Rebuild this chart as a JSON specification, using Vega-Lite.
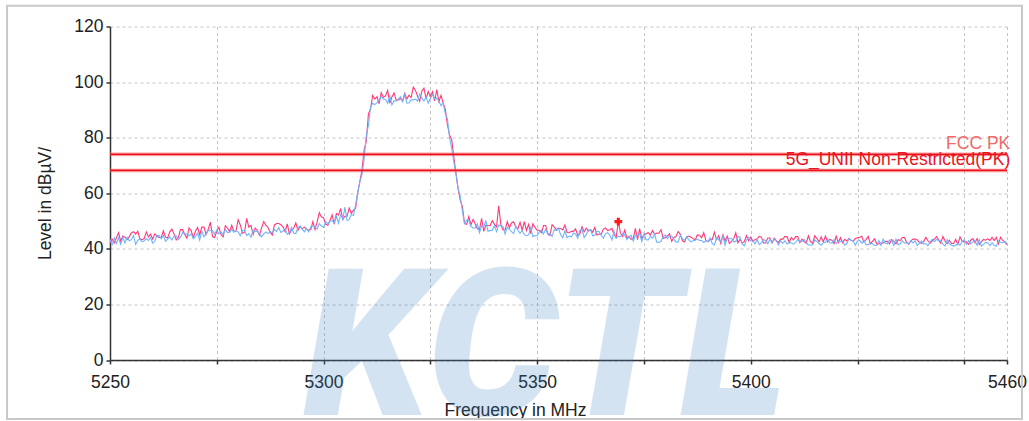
{
"$schema": "https://vega.github.io/schema/vega-lite/v6.json",
"width": 897, "height": 333.5,
"autosize": {"type": "none"},
"padding": {"left": 110, "top": 26.5, "right": 22, "bottom": 61},
"background": "white",
"config": {"view": {"stroke": null}, "font": "Liberation Sans",
 "axis": {"grid": true, "ticks": true, "gridDash": [3,3], "gridColor": "#c4c4c4", "gridWidth": 1, "domainColor": "#333", "domainWidth": 1.5, "tickColor": "#333", "tickWidth": 1.5, "tickSize": 4, "labelFontSize": 17.5, "labelColor": "#222", "titleFontSize": 17.5, "titleFontWeight": "normal", "titleColor": "#222", "labelFont": "Liberation Sans", "titleFont": "Liberation Sans"}},
"datasets": {
"tr": [
{"f":5250,"p":42.0,"b":43.5},{"f":5250.5,"p":43.5,"b":41.5},{"f":5251,"p":42.1,"b":43.9},{"f":5251.5,"p":44.0,"b":41.9},{"f":5252,"p":45.8,"b":44.0},{"f":5252.5,"p":42.8,"b":41.7},{"f":5253,"p":44.6,"b":44.1},{"f":5253.5,"p":44.2,"b":42.1},{"f":5254,"p":43.3,"b":44.2},{"f":5254.5,"p":44.3,"b":42.9},
{"f":5255,"p":45.7,"b":43.3},{"f":5255.5,"p":46.2,"b":44.8},{"f":5256,"p":45.3,"b":41.6},{"f":5256.5,"p":46.3,"b":43.1},{"f":5257,"p":43.6,"b":43.5},{"f":5257.5,"p":43.3,"b":42.5},{"f":5258,"p":43.7,"b":42.9},{"f":5258.5,"p":46.1,"b":43.7},{"f":5259,"p":44.3,"b":43.0},{"f":5259.5,"p":45.3,"b":44.1},
{"f":5260,"p":43.5,"b":42.0},{"f":5260.5,"p":45.4,"b":42.8},{"f":5261,"p":44.5,"b":44.9},{"f":5261.5,"p":44.1,"b":44.7},{"f":5262,"p":44.1,"b":43.6},{"f":5262.5,"p":46.5,"b":44.8},{"f":5263,"p":44.2,"b":42.7},{"f":5263.5,"p":43.9,"b":43.5},{"f":5264,"p":46.1,"b":44.2},{"f":5264.5,"p":47.1,"b":43.2},
{"f":5265,"p":45.3,"b":44.6},{"f":5265.5,"p":43.2,"b":44.7},{"f":5266,"p":44.1,"b":43.3},{"f":5266.5,"p":46.9,"b":44.1},{"f":5267,"p":46.9,"b":45.9},{"f":5267.5,"p":45.2,"b":45.3},{"f":5268,"p":43.8,"b":45.3},{"f":5268.5,"p":47.5,"b":44.7},{"f":5269,"p":46.6,"b":45.4},{"f":5269.5,"p":44.0,"b":43.7},
{"f":5270,"p":46.3,"b":44.4},{"f":5270.5,"p":47.7,"b":45.6},{"f":5271,"p":45.0,"b":43.1},{"f":5271.5,"p":47.8,"b":46.4},{"f":5272,"p":47.8,"b":44.3},{"f":5272.5,"p":45.2,"b":45.4},{"f":5273,"p":47.0,"b":46.5},{"f":5273.5,"p":49.6,"b":46.6},{"f":5274,"p":44.4,"b":46.6},{"f":5274.5,"p":44.1,"b":45.3},
{"f":5275,"p":46.3,"b":46.7},{"f":5275.5,"p":47.8,"b":45.4},{"f":5276,"p":45.1,"b":46.1},{"f":5276.5,"p":44.3,"b":45.1},{"f":5277,"p":48.3,"b":46.9},{"f":5277.5,"p":47.5,"b":45.9},{"f":5278,"p":46.2,"b":45.9},{"f":5278.5,"p":48.5,"b":47.1},{"f":5279,"p":46.3,"b":46.0},{"f":5279.5,"p":46.4,"b":46.5},
{"f":5280,"p":50.5,"b":46.1},{"f":5280.5,"p":48.6,"b":44.7},{"f":5281,"p":45.6,"b":46.6},{"f":5281.5,"p":46.0,"b":46.6},{"f":5282,"p":51.0,"b":44.8},{"f":5282.5,"p":47.8,"b":45.5},{"f":5283,"p":48.4,"b":44.2},{"f":5283.5,"p":45.2,"b":46.7},{"f":5284,"p":47.5,"b":46.3},{"f":5284.5,"p":46.6,"b":46.3},
{"f":5285,"p":44.9,"b":45.4},{"f":5285.5,"p":47.6,"b":44.3},{"f":5286,"p":49.8,"b":45.4},{"f":5286.5,"p":48.5,"b":46.1},{"f":5287,"p":47.7,"b":45.5},{"f":5287.5,"p":45.9,"b":46.2},{"f":5288,"p":45.0,"b":45.8},{"f":5288.5,"p":48.6,"b":46.9},{"f":5289,"p":49.1,"b":46.3},{"f":5289.5,"p":49.1,"b":47.7},
{"f":5290,"p":48.7,"b":45.9},{"f":5290.5,"p":47.9,"b":46.4},{"f":5291,"p":46.2,"b":47.2},{"f":5291.5,"p":49.0,"b":45.2},{"f":5292,"p":45.4,"b":45.9},{"f":5292.5,"p":46.8,"b":47.7},{"f":5293,"p":47.4,"b":45.7},{"f":5293.5,"p":49.3,"b":45.5},{"f":5294,"p":46.7,"b":47.7},{"f":5294.5,"p":48.1,"b":48.1},
{"f":5295,"p":47.2,"b":47.1},{"f":5295.5,"p":47.8,"b":46.1},{"f":5296,"p":47.0,"b":47.3},{"f":5296.5,"p":46.7,"b":46.1},{"f":5297,"p":46.9,"b":48.0},{"f":5297.5,"p":49.8,"b":48.2},{"f":5298,"p":46.9,"b":47.7},{"f":5298.5,"p":49.7,"b":47.1},{"f":5299,"p":53.0,"b":49.1},{"f":5299.5,"p":51.4,"b":48.2},
{"f":5300,"p":51.2,"b":47.7},{"f":5300.5,"p":48.8,"b":49.8},{"f":5301,"p":48.5,"b":48.9},{"f":5301.5,"p":50.2,"b":49.9},{"f":5302,"p":52.2,"b":50.1},{"f":5302.5,"p":48.9,"b":49.4},{"f":5303,"p":52.7,"b":51.7},{"f":5303.5,"p":52.1,"b":49.2},{"f":5304,"p":54.5,"b":52.4},{"f":5304.5,"p":50.5,"b":50.6},
{"f":5305,"p":51.7,"b":55.0},{"f":5305.5,"p":51.7,"b":50.2},{"f":5306,"p":54.7,"b":50.5},{"f":5306.5,"p":52.8,"b":52.4},{"f":5307,"p":53.9,"b":52.0},{"f":5307.5,"p":54.6,"b":55.8},{"f":5308,"p":60.3,"b":60.2},{"f":5308.5,"p":64.3,"b":64.2},{"f":5309,"p":68.4,"b":66.7},{"f":5309.5,"p":75.7,"b":72.4},
{"f":5310,"p":78.6,"b":80.8},{"f":5310.5,"p":88.6,"b":84.4},{"f":5311,"p":90.4,"b":91.0},{"f":5311.5,"p":95.2,"b":92.4},{"f":5312,"p":93.9,"b":91.9},{"f":5312.5,"p":94.8,"b":92.6},{"f":5313,"p":92.2,"b":93.4},{"f":5313.5,"p":96.2,"b":94.8},{"f":5314,"p":94.5,"b":93.8},{"f":5314.5,"p":95.0,"b":93.8},
{"f":5315,"p":97.0,"b":92.4},{"f":5315.5,"p":92.4,"b":95.0},{"f":5316,"p":94.6,"b":91.8},{"f":5316.5,"p":96.1,"b":93.3},{"f":5317,"p":93.5,"b":93.1},{"f":5317.5,"p":93.6,"b":93.9},{"f":5318,"p":94.1,"b":94.7},{"f":5318.5,"p":93.2,"b":92.9},{"f":5319,"p":96.0,"b":95.5},{"f":5319.5,"p":93.9,"b":92.4},
{"f":5320,"p":95.3,"b":92.5},{"f":5320.5,"p":94.4,"b":93.6},{"f":5321,"p":98.2,"b":93.6},{"f":5321.5,"p":97.1,"b":93.9},{"f":5322,"p":94.9,"b":93.2},{"f":5322.5,"p":93.1,"b":95.7},{"f":5323,"p":96.7,"b":94.3},{"f":5323.5,"p":97.8,"b":93.2},{"f":5324,"p":94.0,"b":94.6},{"f":5324.5,"p":96.6,"b":92.4},
{"f":5325,"p":94.7,"b":94.1},{"f":5325.5,"p":96.5,"b":95.5},{"f":5326,"p":93.2,"b":94.0},{"f":5326.5,"p":97.3,"b":94.2},{"f":5327,"p":93.0,"b":93.1},{"f":5327.5,"p":95.2,"b":91.5},{"f":5328,"p":92.4,"b":92.5},{"f":5328.5,"p":90.3,"b":88.6},{"f":5329,"p":84.6,"b":86.8},{"f":5329.5,"p":81.0,"b":79.9},
{"f":5330,"p":79.2,"b":76.1},{"f":5330.5,"p":72.9,"b":71.2},{"f":5331,"p":67.0,"b":67.1},{"f":5331.5,"p":61.6,"b":61.7},{"f":5332,"p":57.5,"b":58.8},{"f":5332.5,"p":55.2,"b":53.6},{"f":5333,"p":49.1,"b":49.2},{"f":5333.5,"p":48.8,"b":50.3},{"f":5334,"p":51.6,"b":50.2},{"f":5334.5,"p":48.6,"b":48.1},
{"f":5335,"p":50.6,"b":47.5},{"f":5335.5,"p":48.9,"b":47.5},{"f":5336,"p":47.3,"b":49.0},{"f":5336.5,"p":46.8,"b":45.8},{"f":5337,"p":51.0,"b":48.2},{"f":5337.5,"p":46.3,"b":47.8},{"f":5338,"p":48.5,"b":50.2},{"f":5338.5,"p":48.4,"b":46.3},{"f":5339,"p":48.4,"b":46.7},{"f":5339.5,"p":50.1,"b":46.6},
{"f":5340,"p":48.8,"b":48.3},{"f":5340.5,"p":47.9,"b":46.2},{"f":5341,"p":55.5,"b":48.6},{"f":5341.5,"p":48.7,"b":48.2},{"f":5342,"p":46.8,"b":48.1},{"f":5342.5,"p":46.8,"b":45.3},{"f":5343,"p":49.8,"b":47.7},{"f":5343.5,"p":47.6,"b":47.0},{"f":5344,"p":49.3,"b":46.2},{"f":5344.5,"p":49.7,"b":45.5},
{"f":5345,"p":47.8,"b":48.2},{"f":5345.5,"p":47.3,"b":46.7},{"f":5346,"p":49.5,"b":45.6},{"f":5346.5,"p":46.7,"b":46.6},{"f":5347,"p":49.8,"b":45.1},{"f":5347.5,"p":46.6,"b":44.7},{"f":5348,"p":48.8,"b":45.0},{"f":5348.5,"p":45.5,"b":47.7},{"f":5349,"p":49.0,"b":44.4},{"f":5349.5,"p":47.7,"b":44.8},
{"f":5350,"p":46.7,"b":44.7},{"f":5350.5,"p":46.7,"b":46.1},{"f":5351,"p":45.8,"b":46.8},{"f":5351.5,"p":48.4,"b":45.3},{"f":5352,"p":48.4,"b":47.0},{"f":5352.5,"p":45.2,"b":45.3},{"f":5353,"p":44.8,"b":45.6},{"f":5353.5,"p":48.7,"b":44.5},{"f":5354,"p":47.8,"b":46.9},{"f":5354.5,"p":46.9,"b":46.6},
{"f":5355,"p":47.4,"b":47.3},{"f":5355.5,"p":47.3,"b":45.1},{"f":5356,"p":46.8,"b":44.0},{"f":5356.5,"p":48.6,"b":46.5},{"f":5357,"p":45.9,"b":44.0},{"f":5357.5,"p":45.8,"b":44.6},{"f":5358,"p":46.3,"b":44.3},{"f":5358.5,"p":46.3,"b":45.7},{"f":5359,"p":47.2,"b":45.3},{"f":5359.5,"p":44.8,"b":43.8},
{"f":5360,"p":45.3,"b":46.6},{"f":5360.5,"p":48.0,"b":47.0},{"f":5361,"p":46.1,"b":44.1},{"f":5361.5,"p":47.4,"b":45.1},{"f":5362,"p":46.4,"b":46.8},{"f":5362.5,"p":46.9,"b":46.8},{"f":5363,"p":46.0,"b":44.7},{"f":5363.5,"p":47.7,"b":44.9},{"f":5364,"p":45.0,"b":46.3},{"f":5364.5,"p":45.3,"b":46.2},
{"f":5365,"p":45.3,"b":44.8},{"f":5365.5,"p":47.1,"b":43.8},{"f":5366,"p":47.5,"b":45.4},{"f":5366.5,"p":46.6,"b":45.8},{"f":5367,"p":46.9,"b":45.0},{"f":5367.5,"p":47.4,"b":43.2},{"f":5368,"p":45.1,"b":46.4},{"f":5368.5,"p":44.1,"b":43.8},{"f":5369,"p":49.8,"b":44.5},{"f":5369.5,"p":45.8,"b":44.4},
{"f":5370,"p":44.5,"b":45.5},{"f":5370.5,"p":46.7,"b":45.1},{"f":5371,"p":43.9,"b":43.3},{"f":5371.5,"p":44.4,"b":44.3},{"f":5372,"p":43.4,"b":44.9},{"f":5372.5,"p":43.8,"b":42.8},{"f":5373,"p":47.4,"b":44.9},{"f":5373.5,"p":43.3,"b":44.8},{"f":5374,"p":47.3,"b":45.5},{"f":5374.5,"p":43.6,"b":42.6},
{"f":5375,"p":45.0,"b":45.4},{"f":5375.5,"p":45.4,"b":43.3},{"f":5376,"p":45.8,"b":43.2},{"f":5376.5,"p":44.9,"b":44.6},{"f":5377,"p":46.6,"b":43.8},{"f":5377.5,"p":45.2,"b":45.2},{"f":5378,"p":45.7,"b":42.4},{"f":5378.5,"p":45.6,"b":42.3},{"f":5379,"p":46.9,"b":42.7},{"f":5379.5,"p":43.7,"b":44.3},
{"f":5380,"p":44.1,"b":45.0},{"f":5380.5,"p":44.6,"b":43.6},{"f":5381,"p":45.4,"b":44.6},{"f":5381.5,"p":42.7,"b":44.6},{"f":5382,"p":44.0,"b":43.5},{"f":5382.5,"p":44.4,"b":42.4},{"f":5383,"p":46.2,"b":42.4},{"f":5383.5,"p":45.3,"b":44.8},{"f":5384,"p":42.9,"b":43.7},{"f":5384.5,"p":42.5,"b":43.0},
{"f":5385,"p":44.3,"b":44.4},{"f":5385.5,"p":44.6,"b":43.2},{"f":5386,"p":44.2,"b":42.5},{"f":5386.5,"p":43.7,"b":42.9},{"f":5387,"p":43.2,"b":43.1},{"f":5387.5,"p":45.0,"b":43.5},{"f":5388,"p":44.9,"b":43.0},{"f":5388.5,"p":44.0,"b":43.0},{"f":5389,"p":45.8,"b":42.3},{"f":5389.5,"p":43.0,"b":42.9},
{"f":5390,"p":42.5,"b":42.6},{"f":5390.5,"p":43.4,"b":44.0},{"f":5391,"p":43.4,"b":41.9},{"f":5391.5,"p":46.0,"b":41.4},{"f":5392,"p":43.3,"b":43.9},{"f":5392.5,"p":44.7,"b":43.2},{"f":5393,"p":42.0,"b":42.5},{"f":5393.5,"p":45.0,"b":44.5},{"f":5394,"p":42.8,"b":41.3},{"f":5394.5,"p":44.6,"b":43.8},
{"f":5395,"p":41.9,"b":43.8},{"f":5395.5,"p":42.7,"b":43.7},{"f":5396,"p":43.6,"b":42.6},{"f":5396.5,"p":45.8,"b":42.6},{"f":5397,"p":42.2,"b":44.4},{"f":5397.5,"p":43.5,"b":44.3},{"f":5398,"p":42.1,"b":41.8},{"f":5398.5,"p":42.6,"b":41.1},{"f":5399,"p":44.8,"b":43.2},{"f":5399.5,"p":42.9,"b":44.2},
{"f":5400,"p":44.2,"b":42.8},{"f":5400.5,"p":42.7,"b":42.8},{"f":5401,"p":43.3,"b":41.8},{"f":5401.5,"p":43.6,"b":43.3},{"f":5402,"p":44.5,"b":41.5},{"f":5402.5,"p":44.2,"b":42.1},{"f":5403,"p":42.1,"b":43.3},{"f":5403.5,"p":42.1,"b":43.0},{"f":5404,"p":43.9,"b":41.8},{"f":5404.5,"p":43.9,"b":43.5},
{"f":5405,"p":42.1,"b":42.3},{"f":5405.5,"p":43.8,"b":43.4},{"f":5406,"p":42.9,"b":42.9},{"f":5406.5,"p":42.3,"b":41.4},{"f":5407,"p":43.5,"b":42.9},{"f":5407.5,"p":43.5,"b":42.0},{"f":5408,"p":44.4,"b":42.9},{"f":5408.5,"p":44.4,"b":41.7},{"f":5409,"p":42.3,"b":42.2},{"f":5409.5,"p":44.1,"b":42.2},
{"f":5410,"p":43.2,"b":41.7},{"f":5410.5,"p":44.4,"b":42.2},{"f":5411,"p":44.4,"b":43.4},{"f":5411.5,"p":42.3,"b":42.4},{"f":5412,"p":43.5,"b":42.7},{"f":5412.5,"p":42.6,"b":43.4},{"f":5413,"p":42.0,"b":42.2},{"f":5413.5,"p":44.7,"b":41.4},{"f":5414,"p":42.6,"b":41.4},{"f":5414.5,"p":42.0,"b":41.4},
{"f":5415,"p":44.7,"b":43.2},{"f":5415.5,"p":43.7,"b":42.6},{"f":5416,"p":42.5,"b":41.9},{"f":5416.5,"p":44.3,"b":41.3},{"f":5417,"p":42.5,"b":42.3},{"f":5417.5,"p":44.6,"b":42.3},{"f":5418,"p":42.5,"b":43.6},{"f":5418.5,"p":43.4,"b":42.1},{"f":5419,"p":43.1,"b":42.1},{"f":5419.5,"p":41.9,"b":43.3},
{"f":5420,"p":44.6,"b":41.9},{"f":5420.5,"p":42.2,"b":42.8},{"f":5421,"p":44.0,"b":42.6},{"f":5421.5,"p":42.2,"b":42.8},{"f":5422,"p":43.4,"b":41.3},{"f":5422.5,"p":42.8,"b":41.9},{"f":5423,"p":43.7,"b":43.6},{"f":5423.5,"p":43.1,"b":43.1},{"f":5424,"p":42.8,"b":42.8},{"f":5424.5,"p":43.7,"b":41.3},
{"f":5425,"p":44.0,"b":42.8},{"f":5425.5,"p":44.2,"b":43.0},{"f":5426,"p":44.5,"b":42.0},{"f":5426.5,"p":42.4,"b":43.0},{"f":5427,"p":43.3,"b":41.5},{"f":5427.5,"p":44.5,"b":41.5},{"f":5428,"p":41.8,"b":42.0},{"f":5428.5,"p":42.7,"b":41.8},{"f":5429,"p":43.6,"b":41.2},{"f":5429.5,"p":41.8,"b":41.2},
{"f":5430,"p":41.8,"b":43.0},{"f":5430.5,"p":42.1,"b":41.2},{"f":5431,"p":42.1,"b":43.5},{"f":5431.5,"p":42.7,"b":42.0},{"f":5432,"p":42.7,"b":41.8},{"f":5432.5,"p":41.8,"b":43.2},{"f":5433,"p":43.3,"b":43.0},{"f":5433.5,"p":42.7,"b":41.2},{"f":5434,"p":41.8,"b":43.5},{"f":5434.5,"p":43.3,"b":41.5},
{"f":5435,"p":43.0,"b":41.8},{"f":5435.5,"p":44.1,"b":42.9},{"f":5436,"p":44.1,"b":42.1},{"f":5436.5,"p":42.3,"b":42.1},{"f":5437,"p":41.7,"b":41.9},{"f":5437.5,"p":42.9,"b":42.9},{"f":5438,"p":43.5,"b":42.1},{"f":5438.5,"p":43.5,"b":42.9},{"f":5439,"p":43.2,"b":41.1},{"f":5439.5,"p":42.3,"b":42.1},
{"f":5440,"p":42.0,"b":42.9},{"f":5440.5,"p":42.6,"b":41.7},{"f":5441,"p":44.1,"b":41.9},{"f":5441.5,"p":42.9,"b":41.1},{"f":5442,"p":42.0,"b":42.6},{"f":5442.5,"p":42.9,"b":43.4},{"f":5443,"p":43.5,"b":42.6},{"f":5443.5,"p":44.4,"b":43.4},{"f":5444,"p":43.2,"b":42.9},{"f":5444.5,"p":42.0,"b":42.9},
{"f":5445,"p":44.4,"b":41.7},{"f":5445.5,"p":42.8,"b":41.0},{"f":5446,"p":41.9,"b":43.3},{"f":5446.5,"p":43.1,"b":41.8},{"f":5447,"p":41.9,"b":41.3},{"f":5447.5,"p":41.9,"b":41.0},{"f":5448,"p":43.4,"b":41.3},{"f":5448.5,"p":41.6,"b":42.0},{"f":5449,"p":44.3,"b":41.3},{"f":5449.5,"p":42.8,"b":42.5},
{"f":5450,"p":42.5,"b":43.3},{"f":5450.5,"p":42.5,"b":41.6},{"f":5451,"p":41.6,"b":43.0},{"f":5451.5,"p":43.1,"b":41.8},{"f":5452,"p":43.7,"b":42.5},{"f":5452.5,"p":42.2,"b":43.0},{"f":5453,"p":43.7,"b":41.3},{"f":5453.5,"p":41.6,"b":43.3},{"f":5454,"p":42.5,"b":41.0},{"f":5454.5,"p":43.4,"b":41.6},
{"f":5455,"p":43.1,"b":42.3},{"f":5455.5,"p":43.6,"b":42.2},{"f":5456,"p":43.0,"b":41.2},{"f":5456.5,"p":44.2,"b":42.2},{"f":5457,"p":43.0,"b":41.2},{"f":5457.5,"p":44.2,"b":40.9},{"f":5458,"p":41.8,"b":42.9},{"f":5458.5,"p":44.2,"b":42.4},{"f":5459,"p":43.0,"b":42.2},{"f":5459.5,"p":42.4,"b":42.7},
{"f":5460,"p":41.5,"b":41.9}
],
"limits": [{"name":"FCC PK","v":74},{"name":"5G_UNII Non-Restricted(PK)","v":68.2}],
"marker": [{"f":5369,"v":49.8}]
},
"layer": [
{"data": {"name":"tr"},
 "mark": {"type":"line","color":"#ff3a78","strokeWidth":1.1,"interpolate":"linear"},
 "encoding": {
  "x":{"field":"f","type":"quantitative","title":"Frequency in MHz","scale":{"domain":[5250,5460],"nice":false,"zero":false},
   "axis":{"grid":true,"ticks":true,"values":[5250,5275,5300,5325,5350,5375,5400,5425,5450,5460],"format":"d","labelExpr":"datum.value == 5460 || (datum.value % 50 == 0 && datum.value != 5450) ? datum.label : ''","labelPadding":9,"labelFlush":false,"labelOverlap":false,"titleX":405,"titleY":55.7,"titleBaseline":"alphabetic","titleAlign":"center"}},
  "y":{"field":"p","type":"quantitative","title":"Level in dBµV/","scale":{"domain":[0,120],"nice":false},
   "axis":{"grid":true,"ticks":true,"values":[0,10,20,30,40,50,60,70,80,90,100,110,120],"labelExpr":"datum.value % 20 == 0 ? datum.label : ''","labelPadding":3,"labelFlush":false,"labelOverlap":false,"titleX":-65,"titleY":176.5,"titleAngle":-90,"titleBaseline":"middle","titleAlign":"center"}}}},
{"data": {"name":"tr"},
 "mark": {"type":"line","color":"#70b4ff","strokeWidth":1.1,"interpolate":"linear"},
 "encoding": {
  "x":{"field":"f","type":"quantitative","title":"Frequency in MHz","scale":{"domain":[5250,5460],"nice":false,"zero":false}},
  "y":{"field":"b","type":"quantitative","title":"Level in dBµV/","scale":{"domain":[0,120],"nice":false}}}},
{"data": {"values": [{"t":"KCTL"}]},
 "mark": {"type":"text","font":"Roboto, Liberation Sans, sans-serif","fontSize":205,"fontWeight":900,"fontStyle":"italic","fill":"#3b82c4","opacity":0.22,"align":"center","baseline":"alphabetic"},
 "encoding": {"text":{"field":"t"},
  "x":{"datum":5352,"type":"quantitative","scale":{"domain":[5250,5460],"nice":false,"zero":false}},
  "y":{"datum":-19.8,"type":"quantitative","scale":{"domain":[0,120],"nice":false}}}},
{"data": {"values": [{"t":"frame"}]},
 "mark": {"type":"rect","fill":null,"fillOpacity":0,"stroke":"#c8c8c8","strokeWidth":2,"clip":false},
 "encoding": {
  "x":{"datum":5225.9,"type":"quantitative","scale":{"domain":[5250,5460],"nice":false,"zero":false}},
  "x2":{"datum":5463.5},
  "y":{"datum":127.5,"type":"quantitative","scale":{"domain":[0,120],"nice":false}},
  "y2":{"datum":-21.2}}},
{"data": {"name":"limits"},
 "mark": {"type":"rule","color":"#ff7070","strokeWidth":4,"opacity":0.45},
 "encoding": {"y":{"field":"v","type":"quantitative","title":"Level in dBµV/","scale":{"domain":[0,120],"nice":false}}}},
{"data": {"name":"limits"},
 "mark": {"type":"rule","color":"#e8101a","strokeWidth":1.8},
 "encoding": {"y":{"field":"v","type":"quantitative","title":"Level in dBµV/","scale":{"domain":[0,120],"nice":false}}}},
{"data": {"name":"limits"},
 "mark": {"type":"text","align":"right","baseline":"alphabetic","dx":3.3,"dy":-5,"fontSize":17.5,"font":"Liberation Sans"},
 "encoding": {"text":{"field":"name"},
  "x":{"datum":5460,"type":"quantitative","scale":{"domain":[5250,5460],"nice":false,"zero":false}},
  "y":{"field":"v","type":"quantitative","title":"Level in dBµV/","scale":{"domain":[0,120],"nice":false}},
  "color":{"field":"name","type":"nominal","scale":{"domain":["FCC PK","5G_UNII Non-Restricted(PK)"],"range":["#f26a6a","#e8141e"]},"legend":null}}},
{"data": {"name":"marker"},
 "mark": {"type":"point","shape":"cross","filled":true,"size":60,"color":"#ff1a1a","opacity":1},
 "encoding": {
  "x":{"field":"f","type":"quantitative","title":"Frequency in MHz","scale":{"domain":[5250,5460],"nice":false,"zero":false}},
  "y":{"field":"v","type":"quantitative","title":"Level in dBµV/","scale":{"domain":[0,120],"nice":false}}}}
]
}
